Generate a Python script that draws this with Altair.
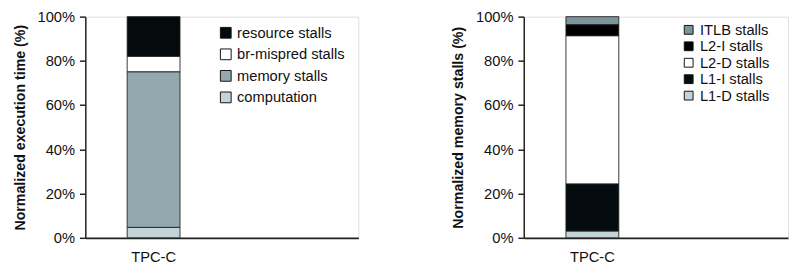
import altair as alt
import pandas as pd

# Left panel: execution time breakdown (%)
exec_cats = ["resource stalls", "br-mispred stalls", "memory stalls", "computation"]
exec_vals = [18.0, 7.0, 70.3, 4.7]
exec_order = [4, 3, 2, 1]
exec_colors = ["#050b0d", "#ffffff", "#93a9ae", "#c3d3da"]

# Right panel: memory stalls breakdown (%)
mem_cats = ["ITLB stalls", "L2-I stalls", "L2-D stalls", "L1-I stalls", "L1-D stalls"]
mem_vals = [3.7, 5.0, 67.0, 21.3, 3.0]
mem_order = [5, 4, 3, 2, 1]
mem_colors = ["#7a959b", "#000000", "#ffffff", "#050c0f", "#c3d3da"]

workload = "TPC-C"
x_domain = [workload, " "]
y_ticks = [0, 20, 40, 60, 80, 100]

FONT = "Liberation Sans"

df_exec = pd.DataFrame({"w": workload, "cat": exec_cats, "v": exec_vals, "o": exec_order})
df_mem = pd.DataFrame({"w": workload, "cat": mem_cats, "v": mem_vals, "o": mem_order})

H = 226


def panel(df, cats, colors, title, width, pad_outer, legend_x, legend_y, sym, row_pad):
    return alt.Chart(df).mark_bar(size=54, stroke="#222222", strokeWidth=0.9).encode(
        x=alt.X("w:N", scale=alt.Scale(domain=x_domain, paddingInner=0, paddingOuter=pad_outer),
                axis=alt.Axis(title=None, labelAngle=0, ticks=False, labelPadding=12,
                              labelFontSize=15, labelFont=FONT, labelColor="#111111",
                              domainColor="#222222", domainWidth=1.8)),
        y=alt.Y("v:Q", stack="zero", scale=alt.Scale(domain=[0, 100], nice=False),
                axis=alt.Axis(title=title, values=y_ticks, labelExpr="datum.value + '%'",
                              grid=False, tickSize=6, tickColor="#222222", tickWidth=1.5,
                              labelPadding=5, labelFontSize=15, labelFont=FONT,
                              labelColor="#111111", titleFont=FONT, titleFontSize=14.5,
                              titleFontWeight="bold", titleColor="#111111", titlePadding=10,
                              domainColor="#222222", domainWidth=1.5)),
        color=alt.Color("cat:N", scale=alt.Scale(domain=cats, range=colors),
                        legend=alt.Legend(title=None, orient="none", legendX=legend_x,
                                          legendY=legend_y, symbolType="square",
                                          symbolSize=sym, symbolStrokeColor="#111111",
                                          symbolStrokeWidth=1, labelFontSize=15,
                                          labelFont=FONT, labelColor="#111111",
                                          labelOffset=4, rowPadding=row_pad)),
        order=alt.Order("o:Q", sort="ascending"),
    ).properties(width=width, height=H)


left = panel(df_exec, exec_cats, exec_colors, "Normalized execution time (%)", 279, 0.0,
             136, 9, 121, 6)
right = panel(df_mem, mem_cats, mem_colors, "Normalized memory stalls (%)", 270, 0.04,
              161, 6, 81, 0.8)

chart = alt.hconcat(left, right, spacing=93).resolve_scale(color="independent").resolve_legend(
    color="independent"
).properties(padding={"top": -2, "left": 4, "right": 0, "bottom": 0}).configure_view(
    stroke=None
).configure(background="white")

chart.save("out.html", embed_options={"renderer": "svg", "actions": False})
